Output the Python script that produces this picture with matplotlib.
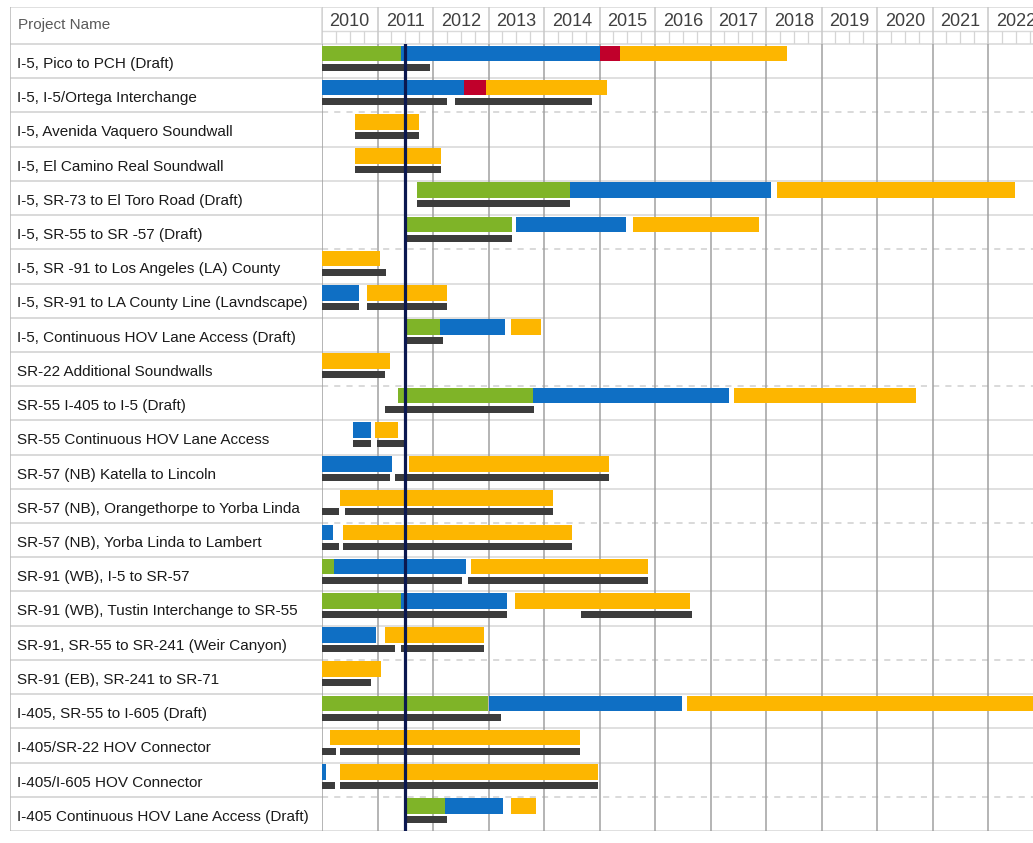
import matplotlib
matplotlib.use("Agg")
import matplotlib.pyplot as plt

plt.rcParams['font.family'] = ['Liberation Sans', 'DejaVu Sans']

# ---------------- data ----------------
projects = [
    "I-5, Pico to PCH (Draft)",
    "I-5, I-5/Ortega Interchange",
    "I-5, Avenida Vaquero Soundwall",
    "I-5, El Camino Real Soundwall",
    "I-5, SR-73 to El Toro Road (Draft)",
    "I-5, SR-55 to SR -57 (Draft)",
    "I-5, SR -91 to Los Angeles (LA) County",
    "I-5, SR-91 to LA County Line (Lavndscape)",
    "I-5, Continuous HOV Lane Access (Draft)",
    "SR-22 Additional Soundwalls",
    "SR-55 I-405 to I-5 (Draft)",
    "SR-55 Continuous HOV Lane Access",
    "SR-57 (NB) Katella to Lincoln",
    "SR-57 (NB), Orangethorpe to Yorba Linda",
    "SR-57 (NB), Yorba Linda to Lambert",
    "SR-91 (WB), I-5 to SR-57",
    "SR-91 (WB), Tustin Interchange to SR-55",
    "SR-91, SR-55 to SR-241 (Weir Canyon)",
    "SR-91 (EB), SR-241 to SR-71",
    "I-405, SR-55 to I-605 (Draft)",
    "I-405/SR-22 HOV Connector",
    "I-405/I-605 HOV Connector",
    "I-405 Continuous HOV Lane Access (Draft)",
]

# phase segments per project: (start, end, phase)
phase_segments = [
    [(2010.00, 2011.42, "env"), (2011.42, 2015.00, "design"), (2015.00, 2015.37, "row"), (2015.37, 2018.37, "build")],
    [(2010.00, 2012.55, "design"), (2012.55, 2012.95, "row"), (2012.95, 2015.13, "build")],
    [(2010.59, 2011.74, "build")],
    [(2010.59, 2012.15, "build")],
    [(2011.72, 2014.46, "env"), (2014.46, 2018.09, "design"), (2018.19, 2022.48, "build")],
    [(2011.52, 2013.43, "env"), (2013.50, 2015.48, "design"), (2015.60, 2017.88, "build")],
    [(2010.00, 2011.04, "build")],
    [(2010.00, 2010.66, "design"), (2010.81, 2012.26, "build")],
    [(2011.52, 2012.12, "env"), (2012.12, 2013.29, "design"), (2013.40, 2013.94, "build")],
    [(2010.00, 2011.23, "build")],
    [(2011.37, 2013.81, "env"), (2013.81, 2017.33, "design"), (2017.42, 2020.71, "build")],
    [(2010.56, 2010.88, "design"), (2010.96, 2011.37, "build")],
    [(2010.00, 2011.27, "design"), (2011.57, 2015.17, "build")],
    [(2010.33, 2014.17, "build")],
    [(2010.00, 2010.19, "design"), (2010.37, 2014.50, "build")],
    [(2010.00, 2010.21, "env"), (2010.21, 2012.59, "design"), (2012.68, 2015.87, "build")],
    [(2010.00, 2011.42, "env"), (2011.42, 2013.33, "design"), (2013.47, 2016.63, "build")],
    [(2010.00, 2010.98, "design"), (2011.14, 2012.91, "build")],
    [(2010.00, 2011.06, "build")],
    [(2010.00, 2013.00, "env"), (2013.00, 2016.48, "design"), (2016.58, 2023.20, "build")],
    [(2010.14, 2014.65, "build")],
    [(2010.00, 2010.08, "design"), (2010.33, 2014.98, "build")],
    [(2011.52, 2012.21, "env"), (2012.21, 2013.27, "design"), (2013.40, 2013.85, "build")],
]

# dark baseline bars per project: (start, end)
baseline_bars = [
    [(2010.00, 2011.95)],
    [(2010.00, 2012.26), (2012.40, 2014.86)],
    [(2010.59, 2011.74)],
    [(2010.59, 2012.15)],
    [(2011.72, 2014.46)],
    [(2011.52, 2013.43)],
    [(2010.00, 2011.15)],
    [(2010.00, 2010.66), (2010.81, 2012.26)],
    [(2011.52, 2012.18)],
    [(2010.00, 2011.14)],
    [(2011.14, 2013.82)],
    [(2010.56, 2010.88), (2010.99, 2011.47)],
    [(2010.00, 2011.22), (2011.32, 2015.17)],
    [(2010.00, 2010.30), (2010.42, 2014.17)],
    [(2010.00, 2010.30), (2010.37, 2014.50)],
    [(2010.00, 2012.53), (2012.63, 2015.87)],
    [(2010.00, 2013.33), (2014.67, 2016.66)],
    [(2010.00, 2011.32), (2011.42, 2012.91)],
    [(2010.00, 2010.88)],
    [(2010.00, 2013.23)],
    [(2010.00, 2010.25), (2010.33, 2014.65)],
    [(2010.00, 2010.24), (2010.33, 2014.98)],
    [(2011.52, 2012.26)],
]

years = list(range(2010, 2023))
today = 2011.5

phase_colors = {"env": "#7fb428", "design": "#0f6fc4", "row": "#c0002b", "build": "#fdb600"}
baseline_color = "#3c3c3c"

# ---------------- layout ----------------
W, H = 1033, 843
fig = plt.figure(figsize=(W / 100, H / 100), dpi=100)
fig.patch.set_facecolor("white")


def frame(x0, y0, x1, y1):
    return [x0 / W, 1 - y1 / H, (x1 - x0) / W, (y1 - y0) / H]


x_right = 2010 + (1033 - 322) / 55.5
n = len(projects)

ax = fig.add_axes(frame(322, 44, 1033, 831))
hax = fig.add_axes(frame(322, 7, 1033, 44))
lax = fig.add_axes(frame(10, 44, 322, 831))
hlax = fig.add_axes(frame(10, 7, 322, 44))

for a in (ax, hax, lax, hlax):
    a.set_axis_off()

ax.set_xlim(2010, x_right)
ax.set_ylim(n, 0)
hax.set_xlim(2010, x_right)
hax.set_ylim(1, 0)
lax.set_xlim(0, 312)
lax.set_ylim(n, 0)
hlax.set_xlim(0, 312)
hlax.set_ylim(1, 0)

grid_light = "#dadada"

# chart row separators
for k in range(n + 1):
    if k % 4 == 2:
        ax.axhline(k, color="#cfcfcf", lw=1.1, ls=(0, (4, 4)), zorder=1)
    else:
        ax.axhline(k, color=grid_light, lw=1.2, zorder=1)
# year lines
for y in years:
    ax.axvline(y, color="#a0a0a0", lw=1.1, zorder=1)

# bars
for i, segs in enumerate(phase_segments):
    for s, e, ph in segs:
        ax.barh(i + 0.045, e - s, left=s, height=0.455, align="edge",
                color=phase_colors[ph], edgecolor="none", zorder=3)
for i, segs in enumerate(baseline_bars):
    for s, e in segs:
        ax.barh(i + 0.57, e - s, left=s, height=0.205, align="edge",
                color=baseline_color, edgecolor="none", zorder=3)

ax.axvline(today, color="#0b1850", lw=2.3, zorder=5)

# header
hax.axhline(0, color=grid_light, lw=1.2)
hax.axhline(0.65, color=grid_light, lw=1.0)
hax.axhline(1, color=grid_light, lw=1.2)
for y in years:
    hax.axvline(y, color="#c8c8c8", lw=1.1)
    hax.text(y + 0.5, 0.38, str(y), ha="center", va="center",
             fontsize=13, color="#404040")
quarters = [y + q / 4 for y in years for q in (1, 2, 3)]
hax.vlines(quarters, 0.65, 1, color="#d5d5d5", lw=0.9)

# label column
for k in range(n + 1):
    lax.axhline(k, color="#d3d3d3", lw=1.2)
lax.axvline(0, color="#bdbdbd", lw=1.2)
for i, name in enumerate(projects):
    lax.text(7, i + 0.70, name, ha="left", va="baseline",
             fontsize=11, color="#1a1a1a")

hlax.axhline(0, color=grid_light, lw=1.2)
hlax.axhline(1, color="#d3d3d3", lw=1.2)
hlax.axvline(0, color="#bdbdbd", lw=1.2)
hlax.axvline(312, color=grid_light, lw=1.2)
hlax.text(8, 0.48, "Project Name", ha="left", va="center",
          fontsize=11, color="#5a5a5a")

fig.savefig("out.png", dpi=100, facecolor="white")
